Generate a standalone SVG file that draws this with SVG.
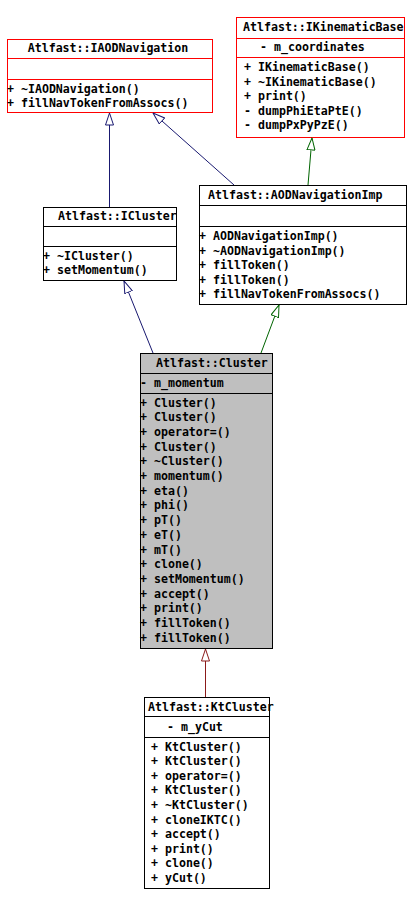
<svg xmlns="http://www.w3.org/2000/svg" width="409" height="905" viewBox="0 0 409 905">
<style>
text{font-family:"DejaVu Sans Mono","Liberation Mono",monospace;font-size:11.6px;font-weight:bold;fill:#000}
.t{text-anchor:middle}
.box{fill:#fff;stroke:#000;stroke-width:1}
.red{stroke:#ff0000}
.gray{fill:#bfbfbf}
.sep{stroke:#000;stroke-width:1}
.sepr{stroke:#ff0000;stroke-width:1}
.e{fill:none;stroke-width:1}
.navy{stroke:#191970}
.green{stroke:#006400}
.maroon{stroke:#8b1a1a}
</style>
<defs>
<marker id="aN" markerUnits="userSpaceOnUse" viewBox="0 0 13 9" refX="12.5" refY="4.5" markerWidth="13" markerHeight="9" orient="auto"><path d="M0.5,0.5 L12.5,4.5 L0.5,8.5 Z" fill="#fff" stroke="#191970"/></marker>
<marker id="aG" markerUnits="userSpaceOnUse" viewBox="0 0 13 9" refX="12.5" refY="4.5" markerWidth="13" markerHeight="9" orient="auto"><path d="M0.5,0.5 L12.5,4.5 L0.5,8.5 Z" fill="#fff" stroke="#006400"/></marker>
<marker id="aM" markerUnits="userSpaceOnUse" viewBox="0 0 13 9" refX="12.5" refY="4.5" markerWidth="13" markerHeight="9" orient="auto"><path d="M0.5,0.5 L12.5,4.5 L0.5,8.5 Z" fill="#fff" stroke="#8b1a1a"/></marker>
</defs>
<rect width="409" height="905" fill="#fff"/>

<g id="IAODNavigation">
<rect class="box red" x="7.5" y="39.5" width="205" height="73"/>
<line class="sepr" x1="7.5" y1="58.5" x2="212.5" y2="58.5"/>
<line class="sepr" x1="7.5" y1="79.5" x2="212.5" y2="79.5"/>
<text class="t" x="108" y="52">Atlfast::IAODNavigation</text>
<text x="7" y="92.5">+ ~IAODNavigation()</text>
<text x="7" y="107">+ fillNavTokenFromAssocs()</text>
</g>

<g id="IKinematicBase">
<rect class="box red" x="236.5" y="17.5" width="168" height="120"/>
<line class="sepr" x1="236.5" y1="38.5" x2="404.5" y2="38.5"/>
<line class="sepr" x1="236.5" y1="57.5" x2="404.5" y2="57.5"/>
<text x="243" y="31">Atlfast::IKinematicBase</text>
<text x="260" y="51">- m_coordinates</text>
<text x="244" y="71">+ IKinematicBase()</text>
<text x="244" y="85.6">+ ~IKinematicBase()</text>
<text x="244" y="100.2">+ print()</text>
<text x="244" y="114.8">- dumpPhiEtaPtE()</text>
<text x="244" y="129.4">- dumpPxPyPzE()</text>
</g>

<g id="ICluster">
<rect class="box" x="43.5" y="207.5" width="133" height="73"/>
<line class="sep" x1="43.5" y1="226.5" x2="176.5" y2="226.5"/>
<line class="sep" x1="43.5" y1="246.5" x2="176.5" y2="246.5"/>
<text x="58" y="220">Atlfast::ICluster</text>
<text x="43" y="259.5">+ ~ICluster()</text>
<text x="43" y="274">+ setMomentum()</text>
</g>

<g id="AODNavigationImp">
<rect class="box" x="199.5" y="185.5" width="207" height="119"/>
<line class="sep" x1="199.5" y1="205.5" x2="406.5" y2="205.5"/>
<line class="sep" x1="199.5" y1="226.5" x2="406.5" y2="226.5"/>
<text x="208" y="198.5">Atlfast::AODNavigationImp</text>
<text x="199" y="240">+ AODNavigationImp()</text>
<text x="199" y="254.6">+ ~AODNavigationImp()</text>
<text x="199" y="269.2">+ fillToken()</text>
<text x="199" y="283.8">+ fillToken()</text>
<text x="199" y="298.4">+ fillNavTokenFromAssocs()</text>
</g>

<g id="Cluster">
<rect class="box gray" x="140.5" y="353.5" width="132" height="295"/>
<line class="sep" x1="140.5" y1="373.5" x2="272.5" y2="373.5"/>
<line class="sep" x1="140.5" y1="393.5" x2="272.5" y2="393.5"/>
<text x="156" y="366.5">Atlfast::Cluster</text>
<text x="140" y="386.5">- m_momentum</text>
<text x="140" y="406.5">+ Cluster()</text>
<text x="140" y="421.2">+ Cluster()</text>
<text x="140" y="435.9">+ operator=()</text>
<text x="140" y="450.6">+ Cluster()</text>
<text x="140" y="465.3">+ ~Cluster()</text>
<text x="140" y="480">+ momentum()</text>
<text x="140" y="494.7">+ eta()</text>
<text x="140" y="509.4">+ phi()</text>
<text x="140" y="524.1">+ pT()</text>
<text x="140" y="538.8">+ eT()</text>
<text x="140" y="553.5">+ mT()</text>
<text x="140" y="568.2">+ clone()</text>
<text x="140" y="582.9">+ setMomentum()</text>
<text x="140" y="597.6">+ accept()</text>
<text x="140" y="612.3">+ print()</text>
<text x="140" y="627">+ fillToken()</text>
<text x="140" y="641.7">+ fillToken()</text>
</g>

<g id="KtCluster">
<rect class="box" x="144.5" y="697.5" width="125" height="191"/>
<line class="sep" x1="144.5" y1="716.5" x2="269.5" y2="716.5"/>
<line class="sep" x1="144.5" y1="737.5" x2="269.5" y2="737.5"/>
<text x="148" y="711">Atlfast::KtCluster</text>
<text x="167" y="731">- m_yCut</text>
<text x="151" y="750.5">+ KtCluster()</text>
<text x="151" y="765.1">+ KtCluster()</text>
<text x="151" y="779.7">+ operator=()</text>
<text x="151" y="794.3">+ KtCluster()</text>
<text x="151" y="808.9">+ ~KtCluster()</text>
<text x="151" y="823.5">+ cloneIKTC()</text>
<text x="151" y="838.1">+ accept()</text>
<text x="151" y="852.7">+ print()</text>
<text x="151" y="867.3">+ clone()</text>
<text x="151" y="881.9">+ yCut()</text>
</g>

<g id="connectors">
<line class="e navy" x1="109.5" y1="207" x2="109.5" y2="113" marker-end="url(#aN)"/>
<line class="e navy" x1="234" y1="185" x2="153" y2="113" marker-end="url(#aN)"/>
<line class="e green" x1="308" y1="185" x2="312" y2="138" marker-end="url(#aG)"/>
<line class="e navy" x1="153" y1="353" x2="124" y2="281" marker-end="url(#aN)"/>
<line class="e green" x1="261" y1="353" x2="279" y2="305" marker-end="url(#aG)"/>
<line class="e maroon" x1="205.5" y1="697" x2="205.5" y2="649" marker-end="url(#aM)"/>
</g>
</svg>
